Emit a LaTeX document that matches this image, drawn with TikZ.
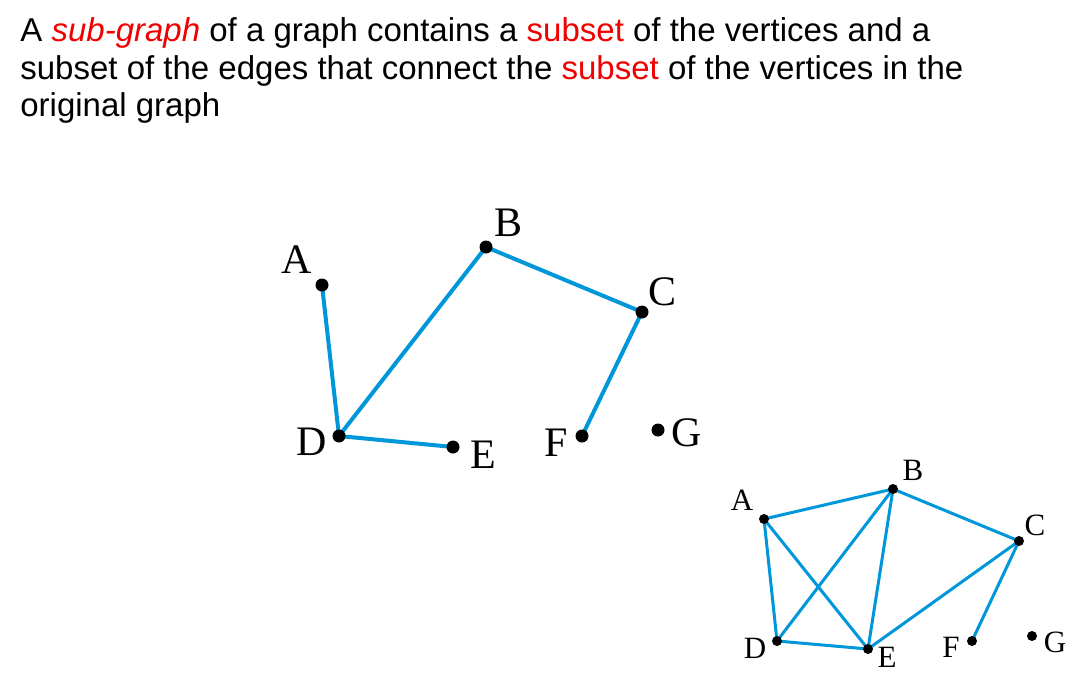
\documentclass[tikz,border=0pt]{standalone}
\usepackage{fontspec}
\setmainfont{Liberation Serif}
\setsansfont{Liberation Sans}
\usetikzlibrary{backgrounds}
\definecolor{edgeblue}{RGB}{0,150,218}
\definecolor{hired}{RGB}{240,0,0}
\tikzset{
  vertex/.style={circle, fill=black, inner sep=0pt, minimum size=#1},
  vertex/.default=6.5pt,
  biglab/.style={font=\fontsize{21}{21}\selectfont, inner sep=0pt},
  smalllab/.style={font=\fontsize{15.5}{15.5}\selectfont, inner sep=0pt},
  headline/.style={anchor=base west, inner sep=0pt, font=\sffamily\fontsize{16.5}{20}\selectfont}
}
\begin{document}
\begin{tikzpicture}[x=0.5pt, y=-0.5pt]
            \useasboundingbox (0,0) rectangle (1088,675);

            % heading
            \node[headline] (line1) at (20, 41.5) {A \textcolor{hired}{\textit{sub-graph}} of a graph contains a \textcolor{hired}{subset} of the vertices and a};
            \node[headline] (line2) at (20, 79) {subset of the edges that connect the \textcolor{hired}{subset} of the vertices in the};
            \node[headline] (line3) at (20, 116.5) {original graph};

            % sub-graph
            \foreach \n/\x/\y/\lx/\ly in {A/322/285/297/260, B/486/247/509/223, C/642/312/663/292,
                                          D/339/436/312/442, E/453/447/483/455, F/582/436/556/443,
                                          G/658/430/687/433}{
                \node[vertex] (s\n) at (\x, \y) {};
                \node[biglab] (slab\n) at (\lx, \ly) {\n};
            }
            \begin{scope}[on background layer]
            \foreach \a/\b in {A/D, D/B, B/C, C/F, D/E}{
                \draw[edgeblue, line width=2pt] (s\a.center) to (s\b.center);
            }
            \end{scope}

            % original graph
            \foreach \n/\x/\y/\lx/\ly in {A/764/519/742/500, B/893/489/913/470, C/1019/541/1035/525,
                                          D/777/641/755/648, E/868/649/887/657, F/972/641/951/647,
                                          G/1032/636/1055/642}{
                \node[vertex=5pt] (o\n) at (\x, \y) {};
                \node[smalllab] (olab\n) at (\lx, \ly) {\n};
            }
            \begin{scope}[on background layer]
            \foreach \a/\b in {A/B, A/D, A/E, B/D, B/E, B/C, C/E, C/F, D/E}{
                \draw[edgeblue, line width=1.5pt] (o\a.center) to (o\b.center);
            }
            \end{scope}
        \end{tikzpicture}
\end{document}
